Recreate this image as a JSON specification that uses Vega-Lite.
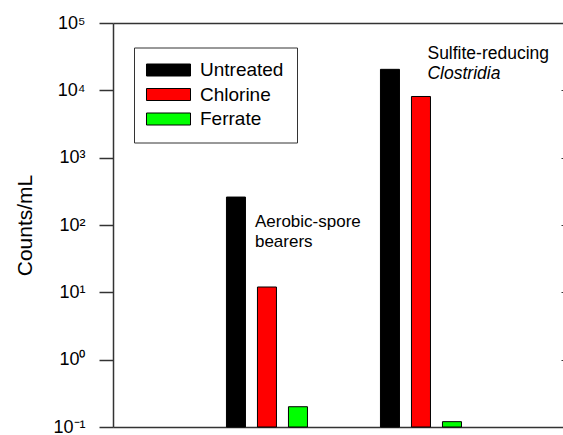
{
  "$schema": "https://vega.github.io/schema/vega-lite/v6.json",
  "autosize": "none",
  "width": 450,
  "height": 404,
  "padding": {"left": 113, "top": 23, "right": 0, "bottom": 8},
  "background": "white",
  "config": {
    "font": "Liberation Sans",
    "view": {"stroke": null},
    "axis": {"domainColor": "#333", "domainWidth": 1.5, "tickColor": "#333", "tickWidth": 1.5, "grid": false}
  },
  "data": {
    "values": [
      {"group": "Aerobic-spore bearers", "treatment": "Untreated", "count": 260},
      {"group": "Aerobic-spore bearers", "treatment": "Chlorine", "count": 12},
      {"group": "Aerobic-spore bearers", "treatment": "Ferrate", "count": 0.2},
      {"group": "Sulfite-reducing Clostridia", "treatment": "Untreated", "count": 20500},
      {"group": "Sulfite-reducing Clostridia", "treatment": "Chlorine", "count": 8100},
      {"group": "Sulfite-reducing Clostridia", "treatment": "Ferrate", "count": 0.12}
    ]
  },
  "layer": [
    {
      "mark": {"type": "bar", "stroke": "black", "strokeWidth": 1},
      "encoding": {
        "x": {
          "field": "group", "type": "nominal",
          "sort": ["Aerobic-spore bearers", "Sulfite-reducing Clostridia"],
          "scale": {"paddingInner": 0.0714, "paddingOuter": 0.4967, "align": 0.539},
          "axis": {"orient": "bottom", "title": null, "labels": false, "ticks": false, "domain": true}
        },
        "xOffset": {
          "field": "treatment", "type": "nominal",
          "sort": ["Untreated", "Chlorine", "Ferrate"],
          "scale": {"paddingInner": 0.387, "paddingOuter": 1}
        },
        "y": {
          "field": "count", "type": "quantitative",
          "scale": {"type": "log", "domain": [0.1, 100000], "nice": false},
          "axis": {
            "orient": "left",
            "title": "Counts/mL",
            "titleFontSize": 21,
            "titleFontWeight": "normal",
            "titleColor": "black",
            "titleX": -88,
            "titleY": 202,
            "titleAngle": 270,
            "titleAlign": "center",
            "titleBaseline": "middle",
            "values": [0.1, 1, 10, 100, 1000, 10000, 100000],
            "labelExpr": "datum.value < 0.5 ? '10⁻¹' : datum.value < 5 ? '10⁰' : datum.value < 50 ? '10¹' : datum.value < 500 ? '10²' : datum.value < 5000 ? '10³' : datum.value < 50000 ? '10⁴' : '10⁵'",
            "labelFontSize": 18,
            "labelColor": "black",
            "labelPadding": 14,
            "tickSize": 14
          }
        },
        "y2": {"datum": 0.1},
        "color": {
          "field": "treatment", "type": "nominal",
          "sort": ["Untreated", "Chlorine", "Ferrate"],
          "scale": {"domain": ["Untreated", "Chlorine", "Ferrate"], "range": ["#000000", "#ff0000", "#00ff00"]},
          "legend": {
            "title": null,
            "orient": "none",
            "legendX": 21,
            "legendY": 24.5,
            "padding": 13,
            "strokeColor": "#333",
            "fillColor": "white",
            "symbolType": "M-1.667,-1H5.667V1H-1.667Z",
            "symbolSize": 144,
            "symbolStrokeColor": "black",
            "symbolStrokeWidth": 1,
            "symbolOpacity": 1,
            "labelFontSize": 19,
            "labelColor": "black",
            "labelOffset": 34,
            "rowPadding": 4.5
          }
        }
      }
    },
    {
      "data": {"values": [{"group": "Aerobic-spore bearers", "label": ["Aerobic-spore", "bearers"]}]},
      "mark": {"type": "text", "align": "left", "baseline": "alphabetic", "fontSize": 17, "fontWeight": "normal", "lineHeight": 19.5, "dx": -12, "dy": 2, "color": "black"},
      "encoding": {
        "x": {"field": "group", "type": "nominal", "axis": null},
        "y": {"datum": 100, "type": "quantitative", "axis": null},
        "text": {"field": "label"}
      }
    },
    {
      "data": {"values": [{"group": "Sulfite-reducing Clostridia", "label": "Sulfite-reducing"}]},
      "mark": {"type": "text", "align": "left", "baseline": "alphabetic", "fontSize": 17.5, "fontWeight": "normal", "dx": 6.5, "dy": 1, "color": "black"},
      "encoding": {
        "x": {"field": "group", "type": "nominal", "axis": null},
        "y": {"datum": 30000, "type": "quantitative", "axis": null},
        "text": {"field": "label"}
      }
    },
    {
      "data": {"values": [{"group": "Sulfite-reducing Clostridia", "label": "Clostridia"}]},
      "mark": {"type": "text", "align": "left", "baseline": "alphabetic", "fontSize": 17.5, "fontWeight": "normal", "fontStyle": "italic", "dx": 6.5, "dy": 20.5, "color": "black"},
      "encoding": {
        "x": {"field": "group", "type": "nominal", "axis": null},
        "y": {"datum": 30000, "type": "quantitative", "axis": null},
        "text": {"field": "label"}
      }
    },
    {
      "data": {"values": [{"group": "Aerobic-spore bearers"}]},
      "mark": {"type": "rule", "color": "#333", "strokeWidth": 1.5},
      "encoding": {
        "x": {"field": "group", "type": "nominal", "axis": {"orient": "top", "title": null, "labels": false, "ticks": false, "domain": true}},
        "y": {"datum": 0.1, "type": "quantitative", "axis": {"orient": "right", "title": null, "labels": false, "domain": false, "values": [1, 10, 100, 1000, 10000], "tickSize": -2, "tickWidth": 1}},
        "opacity": {"value": 0}
      }
    }
  ],
  "resolve": {"axis": {"x": "independent", "y": "independent"}}
}
